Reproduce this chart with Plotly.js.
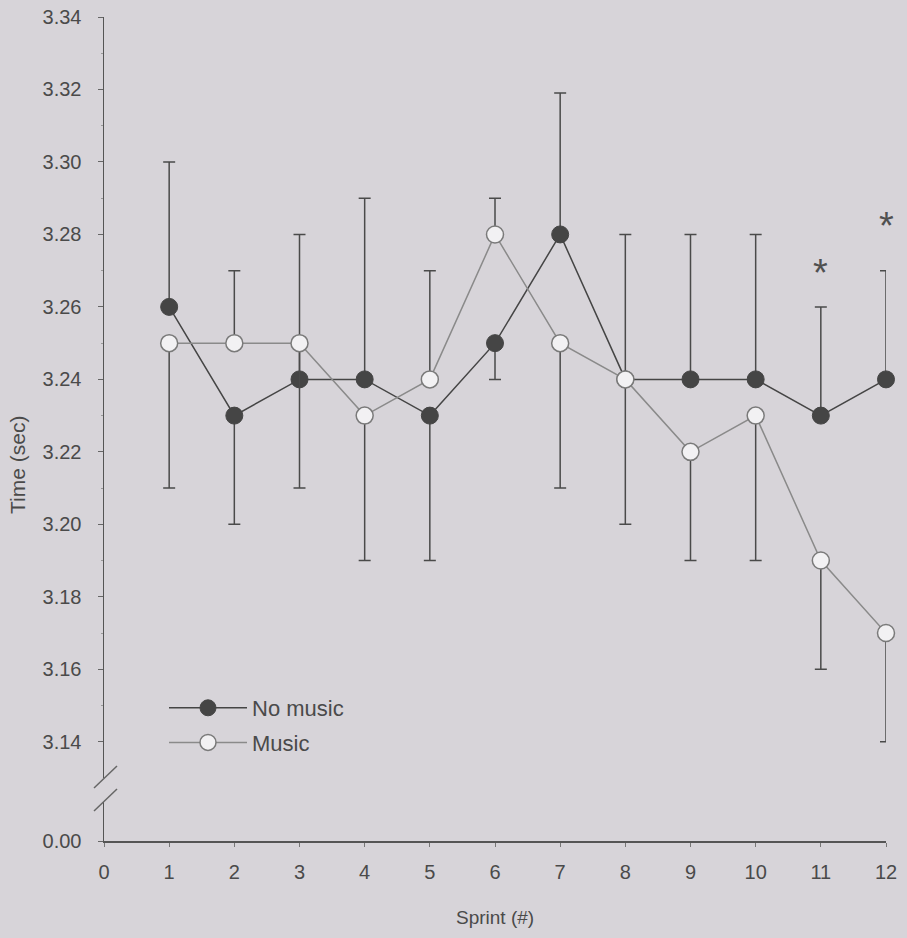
<!DOCTYPE html>
<html><head><meta charset="utf-8">
<script src="https://cdn.plot.ly/plotly-3.0.1.min.js"></script>
<style>html,body{margin:0;padding:0;background:#d7d4d9}</style>
</head><body><div id="chart" style="width:907px;height:938px"></div>
<script>
const sprints = [1,2,3,4,5,6,7,8,9,10,11,12];
const noMusic = [3.26,3.23,3.24,3.24,3.23,3.25,3.28,3.24,3.24,3.24,3.23,3.24];
const music   = [3.25,3.25,3.25,3.23,3.24,3.28,3.25,3.24,3.22,3.23,3.19,3.17];
const noMusicErrUp   = [0.04,0,0.04,0.05,0,0,0.039,0.04,0.04,0.04,0.03,0.03];
const noMusicErrDown = [0,0.03,0,0,0.04,0.01,0,0,0,0,0,0];
const musicErrUp     = [0,0.02,0,0,0.03,0.01,0,0,0,0,0,0];
const musicErrDown   = [0.04,0,0.04,0.04,0,0,0.04,0.04,0.03,0.04,0.03,0.03];
const sigSprints = [11,12];
const sigY = [3.2705,3.2835];
const yTicks = [3.14,3.16,3.18,3.20,3.22,3.24,3.26,3.28,3.30,3.32,3.34];
const yMinorTicks = [3.15,3.17,3.19,3.21,3.23,3.25,3.27,3.29,3.31,3.33];
const xTicks = [0,1,2,3,4,5,6,7,8,9,10,11,12];

const ink = '#4a4a4a';
const font = 'Liberation Sans, Arial, Helvetica, sans-serif';
const noMusicColor = '#454545';
const musicColor = '#8a8a8a';

const traces = [
  {
    x: sprints, y: noMusic, name: 'No music', type: 'scatter', mode: 'lines+markers',
    legendgroup: 'a', cliponaxis: false,
    line: {color: noMusicColor, width: 1.5},
    marker: {symbol: 'circle', size: 17, color: noMusicColor, line: {color: noMusicColor, width: 1}},
    error_y: {type: 'data', symmetric: false, array: noMusicErrUp, arrayminus: noMusicErrDown,
              color: ink, thickness: 1.5, width: 6}
  },
  {
    x: sprints, y: music, name: 'Music', type: 'scatter', mode: 'lines+markers',
    legendgroup: 'b', cliponaxis: false,
    line: {color: musicColor, width: 1.5},
    marker: {symbol: 'circle', size: 17, color: '#f2f1f3', line: {color: '#7a7a7a', width: 1.5}},
    error_y: {type: 'data', symmetric: false, array: musicErrUp, arrayminus: musicErrDown,
              color: ink, thickness: 1.5, width: 6}
  },
  {
    // empty trace so the lower (0.00) axis segment is drawn
    x: [], y: [], xaxis: 'x', yaxis: 'y2', type: 'scatter', mode: 'markers',
    showlegend: false, hoverinfo: 'skip'
  }
];

const px = v => (v-104)/782, py = v => (841-v)/824;

const annotations = sigSprints.map((s, i) => ({
  x: s, y: sigY[i], xref: 'x', yref: 'y', text: '*', showarrow: false,
  font: {family: font, size: 38, color: '#505050'}, yshift: -4
}));
annotations.push({
  text: 'Time (sec)', xref: 'paper', yref: 'paper', x: px(17), y: py(465),
  xanchor: 'center', yanchor: 'middle',
  textangle: -90, showarrow: false, font: {family: font, size: 21, color: ink}
});
annotations.push({
  text: 'Sprint (#)', xref: 'paper', yref: 'paper', x: 0.5, y: py(917),
  xanchor: 'center', yanchor: 'middle',
  showarrow: false, font: {family: font, size: 19, color: ink}
});

const shapes = [
  {type:'line', xref:'paper', yref:'paper', x0:px(94), y0:py(788), x1:px(117), y1:py(766), line:{color:'#666', width:1.5}},
  {type:'line', xref:'paper', yref:'paper', x0:px(94), y0:py(811), x1:px(117), y1:py(789), line:{color:'#666', width:1.5}}
];

const layout = {
  width: 907, height: 938,
  paper_bgcolor: '#d7d4d9', plot_bgcolor: 'rgba(0,0,0,0)',
  margin: {l: 104, r: 21, t: 17, b: 97, pad: 0},
  font: {family: font, color: ink, size: 20},
  showlegend: true,
  legend: {x: px(164), y: py(687), xanchor: 'left', yanchor: 'top', bgcolor: 'rgba(0,0,0,0)',
           itemwidth: 78, traceorder: 'grouped', tracegroupgap: 3,
           font: {family: font, size: 22, color: ink}},
  xaxis: {range: [0, 12], anchor: 'y2', tickvals: xTicks, ticks: 'outside', ticklen: 4, tickwidth: 1,
          tickcolor: '#777', showline: true, linecolor: '#555', linewidth: 1.5, showgrid: false,
          zeroline: false, ticklabelstandoff: 8, tickfont: {size: 20}},
  yaxis: {domain: [py(778), 1], anchor: 'x', range: [3.13, 3.34], tickvals: yTicks, tickformat: '.2f',
          ticks: 'outside', ticklen: 5, tickwidth: 1, tickcolor: '#666', showline: true,
          linecolor: '#555', linewidth: 1.5, showgrid: false, zeroline: false,
          ticklabelstandoff: 12, tickfont: {size: 20},
          minor: {tickvals: yMinorTicks, ticks: 'outside', ticklen: 2, tickcolor: '#999'}},
  yaxis2: {domain: [0, py(802)], anchor: 'x', range: [0, 0.011], tickvals: [0], tickformat: '.2f',
           ticks: 'outside', ticklen: 5, tickwidth: 1, tickcolor: '#666', showline: true,
           linecolor: '#555', linewidth: 1.5, showgrid: false, zeroline: false,
           ticklabelstandoff: 12, tickfont: {size: 20}},
  annotations: annotations,
  shapes: shapes
};

Plotly.newPlot('chart', traces, layout, {displayModeBar: false, staticPlot: true});
</script>
</body></html>
